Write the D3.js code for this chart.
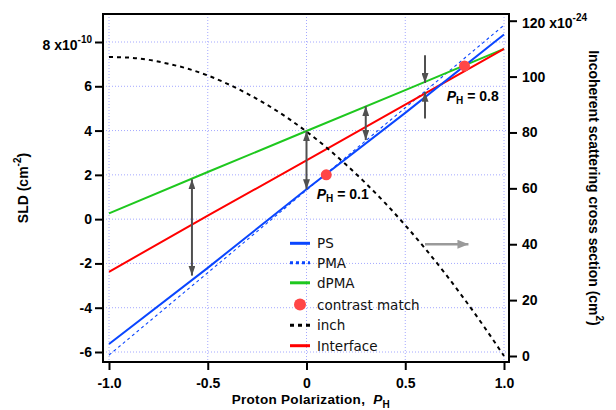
<!DOCTYPE html>
<html>
<head>
<meta charset="utf-8">
<script src="https://cdn.jsdelivr.net/npm/d3@7"></script>
<style>
  html, body { margin: 0; padding: 0; background: #fff; }
  svg { display: block; }
  .tick text { font-family: "Liberation Sans", Arial, sans-serif; font-weight: bold; font-size: 14px; fill: #000; }
</style>
</head>
<body>
<svg id="chart" width="616" height="410"></svg>
<script>
// Proton polarization samples for the straight SLD curves
const P_LINE = [-1, -0.5, 0, 0.5, 1];
// Scattering length density, units of 1e-10 cm^-2
const PS_SLD        = [-5.64, -2.2, 1.35, 4.8, 8.34];
const PMA_SLD       = [-6.14, -2.42, 1.31, 5.03, 8.76];
const DPMA_SLD      = [0.26, 2.13, 3.98, 5.83, 7.69];
const INTERFACE_SLD = [-2.38, 0.16, 2.65, 5.17, 7.69];

// Incoherent scattering cross section of H, units of 1e-24 cm^2
const P_INCH = [-1, -0.9, -0.8, -0.7, -0.6, -0.5, -0.4, -0.3, -0.2, -0.1, 0,
                0.1, 0.2, 0.3, 0.4, 0.5, 0.6, 0.7, 0.8, 0.9, 1];
const INCH   = [107.0, 106.8, 106.0, 104.6, 102.8, 100.4, 97.4, 93.9, 89.9, 85.4, 80.3,
                74.7, 68.5, 61.8, 54.6, 46.8, 38.5, 29.7, 20.3, 10.4, 0];

// Contrast match points
const MATCH_P   = [0.1, 0.8];
const MATCH_SLD = [2.0, 6.92];
const MATCH_LABELS = ["0.1", "0.8"];

// Double-headed contrast arrows (SLD between layers)
const GAP_P      = [-0.58, 0, 0.3];
const GAP_TOP    = [1.8, 3.97, 5.1];
const GAP_BOTTOM = [-2.55, 1.35, 3.57];
// Converging arrows at the matching region
const PINCH_P    = 0.6;
const PINCH_TAIL = [7.4, 4.55];
const PINCH_TIP  = [6.15, 5.75];
// Arrow pointing toward the right-hand axis
const RIGHT_ARROW_P   = [0.6, 0.82];
const RIGHT_ARROW_INC = 40;

// Tick values and labels
const X_TICKS   = [-1, -0.5, 0, 0.5, 1];
const X_LABELS  = ["-1.0", "-0.5", "0", "0.5", "1.0"];
const SLD_TICKS = [-6, -4, -2, 0, 2, 4, 6, 8];
const INC_TICKS = [0, 20, 40, 60, 80, 100, 120];

const LEGEND = [
  { name: "PS",             kind: "line", color: "#0a46ff", dash: null },
  { name: "PMA",            kind: "line", color: "#0a46ff", dash: "3,3" },
  { name: "dPMA",           kind: "line", color: "#1ec81e", dash: null },
  { name: "contrast match", kind: "dot",  color: "#ff4646", dash: null },
  { name: "inch",           kind: "line", color: "#000000", dash: "4,4" },
  { name: "Interface",      kind: "line", color: "#ff0000", dash: null }
];

const svg = d3.select("#chart");
const frame = { left: 103, right: 509, top: 14, bottom: 362 };

const x  = d3.scaleLinear().domain([-1, 1]).range([109, 504]);
const yL = d3.scaleLinear().domain([-6, 8]).range([352, 42]);
const yR = d3.scaleLinear().domain([0, 120]).range([356, 20.7]);

const defs = svg.append("defs");
defs.append("clipPath").attr("id", "plot-clip")
  .append("rect")
  .attr("x", frame.left).attr("y", frame.top)
  .attr("width", frame.right - frame.left).attr("height", frame.bottom - frame.top);

function arrowMarker(id, color, len, wid) {
  defs.append("marker")
    .attr("id", id)
    .attr("markerUnits", "userSpaceOnUse")
    .attr("viewBox", `0 0 ${len} ${wid}`)
    .attr("refX", len).attr("refY", wid / 2)
    .attr("markerWidth", len).attr("markerHeight", wid)
    .attr("orient", "auto-start-reverse")
    .append("path")
    .attr("d", `M0,0L${len},${wid / 2}L0,${wid}Z`)
    .attr("fill", color);
}
arrowMarker("head-dark", "#505050", 10, 7);
arrowMarker("head-light", "#9a9a9a", 11, 9);

// grid
const grid = svg.append("g").attr("stroke", "#a4a8ff").attr("stroke-width", 1)
  .attr("stroke-dasharray", "1,2");
grid.selectAll("line.v").data(X_TICKS).join("line")
  .attr("x1", d => x(d)).attr("x2", d => x(d))
  .attr("y1", frame.top).attr("y2", frame.bottom);
grid.selectAll("line.h").data(SLD_TICKS).join("line")
  .attr("x1", frame.left).attr("x2", frame.right)
  .attr("y1", d => yL(d)).attr("y2", d => yL(d));

// data
const plot = svg.append("g").attr("clip-path", "url(#plot-clip)");
const sldLine = vals => d3.line().x((d, i) => x(P_LINE[i])).y(d => yL(d))(vals);

plot.append("path").attr("d", sldLine(PMA_SLD))
  .attr("fill", "none").attr("stroke", "#0a46ff").attr("stroke-width", 1.1)
  .attr("stroke-dasharray", "3,3");
plot.append("path").attr("d", sldLine(DPMA_SLD))
  .attr("fill", "none").attr("stroke", "#1ec81e").attr("stroke-width", 2);
plot.append("path").attr("d", sldLine(INTERFACE_SLD))
  .attr("fill", "none").attr("stroke", "#ff0000").attr("stroke-width", 2);
plot.append("path").attr("d", sldLine(PS_SLD))
  .attr("fill", "none").attr("stroke", "#0a46ff").attr("stroke-width", 2);

const inchLine = d3.line().curve(d3.curveMonotoneX)
  .x((d, i) => x(P_INCH[i])).y(d => yR(d));
plot.append("path").attr("d", inchLine(INCH))
  .attr("fill", "none").attr("stroke", "#000").attr("stroke-width", 2)
  .attr("stroke-dasharray", "4,4");

plot.selectAll("circle.match").data(MATCH_P).join("circle")
  .attr("cx", d => x(d)).attr("cy", (d, i) => yL(MATCH_SLD[i]))
  .attr("r", 5.5).attr("fill", "#ff4646");

// arrows
const arrows = svg.append("g").attr("stroke", "#505050").attr("stroke-width", 2);
GAP_P.forEach((p, i) => {
  arrows.append("line")
    .attr("x1", x(p)).attr("x2", x(p))
    .attr("y1", yL(GAP_TOP[i])).attr("y2", yL(GAP_BOTTOM[i]))
    .attr("marker-start", "url(#head-dark)").attr("marker-end", "url(#head-dark)");
});
PINCH_TAIL.forEach((t, i) => {
  arrows.append("line")
    .attr("x1", x(PINCH_P)).attr("x2", x(PINCH_P))
    .attr("y1", yL(t)).attr("y2", yL(PINCH_TIP[i]))
    .attr("marker-end", "url(#head-dark)");
});
svg.append("line")
  .attr("x1", x(RIGHT_ARROW_P[0])).attr("x2", x(RIGHT_ARROW_P[1]))
  .attr("y1", yR(RIGHT_ARROW_INC)).attr("y2", yR(RIGHT_ARROW_INC))
  .attr("stroke", "#9a9a9a").attr("stroke-width", 2.5)
  .attr("marker-end", "url(#head-light)");

// contrast-match labels
const labelFont = '"Liberation Sans", Arial, sans-serif';
const labelPos = [[316.7, 198.5], [446.7, 100.5]];
MATCH_LABELS.forEach((v, i) => {
  const t = svg.append("text")
    .attr("x", labelPos[i][0]).attr("y", labelPos[i][1])
    .attr("font-family", labelFont).attr("font-weight", "bold").attr("font-size", 14);
  t.append("tspan").attr("font-style", "italic").text("P");
  t.append("tspan").attr("font-size", 10).attr("dy", 3.5).text("H");
  t.append("tspan").attr("dy", -3.5).text(" = " + v);
});

// axes
const tickStyle = g => {
  g.select(".domain").remove();
  g.selectAll(".tick line").attr("stroke", "#000").attr("stroke-width", 2);
};
const gx = svg.append("g").attr("transform", `translate(0,${frame.bottom})`)
  .call(d3.axisBottom(x).tickValues(X_TICKS).tickFormat((d, i) => X_LABELS[i])
    .tickSize(8).tickPadding(8.5))
  .call(tickStyle);

const gl = svg.append("g").attr("transform", `translate(${frame.left},0)`)
  .call(d3.axisLeft(yL).tickValues(SLD_TICKS).tickFormat(d => d)
    .tickSize(8).tickPadding(3))
  .call(tickStyle);
gl.selectAll(".tick text").filter(d => d === 8).each(function () {
  const t = d3.select(this).text(null).attr("dy", "0.55em");
  t.append("tspan").text("8 x10");
  t.append("tspan").attr("font-size", 10).attr("dy", -7).text("-10");
});

const gr = svg.append("g").attr("transform", `translate(${frame.right},0)`)
  .call(d3.axisRight(yR).tickValues(INC_TICKS).tickFormat(d => d)
    .tickSize(8).tickPadding(5))
  .call(tickStyle);
gr.selectAll(".tick text").filter(d => d === 120).each(function () {
  const t = d3.select(this).text(null).attr("dy", "0.45em");
  t.append("tspan").text("120 x10");
  t.append("tspan").attr("font-size", 10).attr("dy", -7).text("-24");
});

// frame
svg.append("rect")
  .attr("x", frame.left).attr("y", frame.top)
  .attr("width", frame.right - frame.left).attr("height", frame.bottom - frame.top)
  .attr("fill", "none").attr("stroke", "#000").attr("stroke-width", 2);

// axis titles
const xt = svg.append("text")
  .attr("x", 231.7).attr("y", 404)
  .attr("font-family", labelFont).attr("font-weight", "bold").attr("font-size", 13.5)
  .attr("letter-spacing", 0.3);
xt.append("tspan").text("Proton Polarization,\u00a0 ");
xt.append("tspan").attr("font-style", "italic").text("P");
xt.append("tspan").attr("font-size", 10).attr("dy", 3.5).text("H");

const ylt = svg.append("text")
  .attr("transform", "translate(28,188) rotate(-90)")
  .attr("text-anchor", "middle")
  .attr("font-family", labelFont).attr("font-weight", "bold").attr("font-size", 14);
ylt.append("tspan").text("SLD (cm");
ylt.append("tspan").attr("font-size", 10).attr("dy", -7).text("-2");
ylt.append("tspan").attr("dy", 7).text(")");

const yrt = svg.append("text")
  .attr("transform", "translate(589,188) rotate(90)")
  .attr("text-anchor", "middle")
  .attr("font-family", labelFont).attr("font-weight", "bold").attr("font-size", 14);
yrt.append("tspan").text("Incoherent scattering cross section (cm");
yrt.append("tspan").attr("font-size", 10).attr("dy", -7).text("2");
yrt.append("tspan").attr("dy", 7).text(")");

// legend
const legend = svg.append("g");
const rowY = [243.3, 262.7, 282.8, 304.5, 325.2, 345.7];
LEGEND.forEach((e, i) => {
  const g = legend.append("g").attr("transform", `translate(0,${rowY[i]})`);
  if (e.kind === "dot") {
    g.append("circle").attr("cx", 300).attr("cy", 0).attr("r", 6).attr("fill", e.color);
  } else {
    g.append("line").attr("x1", 290).attr("x2", 310).attr("y1", 0).attr("y2", 0)
      .attr("stroke", e.color).attr("stroke-width", 3)
      .attr("stroke-dasharray", e.dash);
  }
  g.append("text").attr("x", 317).attr("y", 5)
    .attr("font-family", '"DejaVu Sans", Verdana, sans-serif').attr("font-size", 13.5)
    .attr("fill", "#111").text(e.name);
});
</script>
</body>
</html>
